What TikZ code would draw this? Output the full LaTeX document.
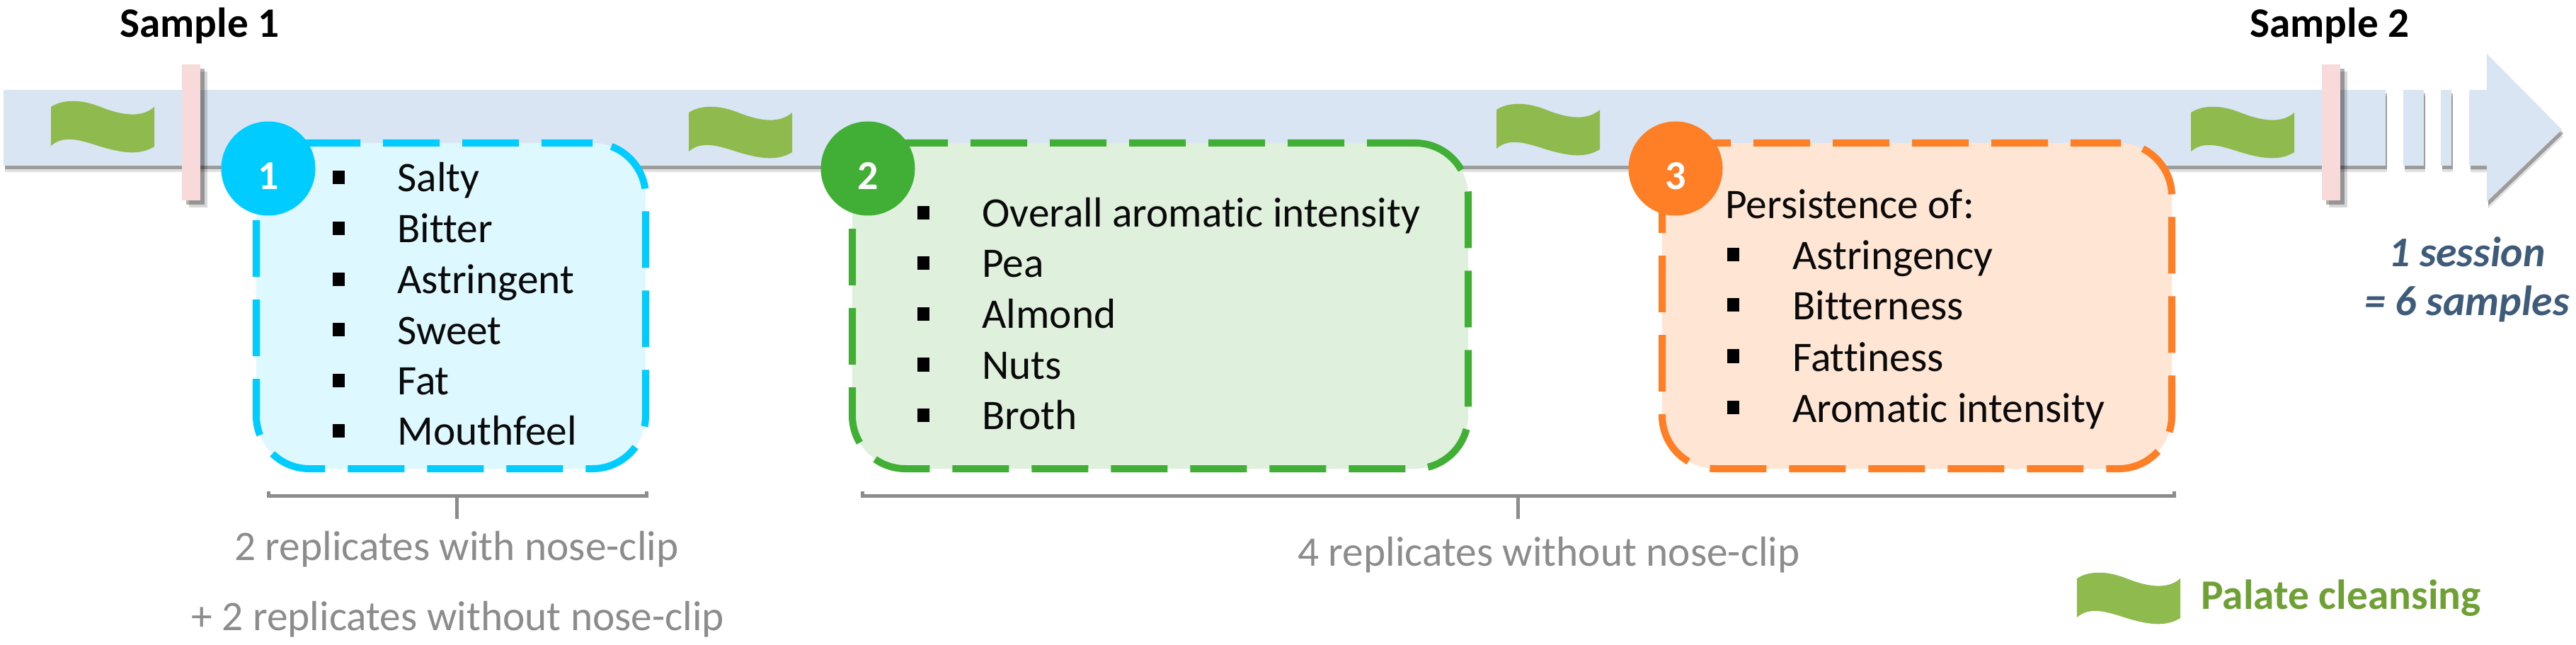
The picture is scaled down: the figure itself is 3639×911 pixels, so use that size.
\documentclass[tikz,border=0pt]{standalone}
\usepackage{fontspec}
\setmainfont{Carlito}[Ligatures=NoCommon]
\usetikzlibrary{positioning,shadows}
\definecolor{ink}      {HTML}{0A0A0A}
\definecolor{barblue}  {HTML}{D9E5F2}
\definecolor{tickpink} {HTML}{F8DADA}
\definecolor{leaf}     {HTML}{8FBB4E}
\definecolor{leafdark} {HTML}{6FA036}
\definecolor{softgrey} {HTML}{8C8C8C}
\definecolor{slate}    {HTML}{3F5B7A}
\definecolor{tasteline}{HTML}{00CCFF}
\definecolor{aromaline}{HTML}{41AE36}
\definecolor{persline} {HTML}{FF7F27}
\colorlet{tastefill}{tasteline!13}
\colorlet{aromafill}{aromaline!17}
\colorlet{persfill}{persline!20}
\tikzset{
  % --- nodes
  panel/.style = {rectangle, rounded corners=15mm, line width=2mm, minimum height=92mm},
  taste/.style = {panel, draw=tasteline, fill=tastefill, minimum width=110mm,
                  dash pattern=on 16mm off 6.4mm, dash phase=1.6mm},
  aroma/.style = {panel, draw=aromaline, fill=aromafill, minimum width=174mm,
                  dash pattern=on 16mm off 6.4mm, dash phase=2.4mm},
  pers/.style  = {panel, draw=persline, fill=persfill, minimum width=144mm,
                  dash pattern=on 16mm off 6.4mm, dash phase=2.4mm},
  num/.style   = {circle, minimum size=26.6mm, inner sep=0pt, text=white, text height=12mm,
                  font=\fontsize{33}{36}\selectfont\bfseries},
  item/.style  = {anchor=base west, inner sep=0pt, text=ink, font=\fontsize{33.8}{40}\selectfont},
  bul/.style   = {rectangle, fill=black, minimum width=3.4mm, minimum height=3.8mm, inner sep=0pt},
  smp/.style   = {inner sep=0pt, text=black, font=\fontsize{33.7}{38}\selectfont\bfseries},
  rep/.style   = {inner sep=0pt, text=softgrey, font=\fontsize{33.8}{40}\selectfont},
  sess/.style  = {inner sep=0pt, text=slate, font=\fontsize{34}{40}\selectfont\bfseries\itshape},
  % --- shapes
  bar/.style   = {fill=barblue, drop shadow={shadow xshift=0.4mm, shadow yshift=-1.9mm,
                  fill=black, opacity=.12}, drop shadow={shadow xshift=0.4mm, shadow yshift=-1.1mm,
                  fill=black, opacity=.3}},
  tick/.style  = {fill=tickpink, drop shadow={shadow xshift=2mm, shadow yshift=-2mm,
                  fill=black, opacity=.16}, drop shadow={shadow xshift=1.2mm, shadow yshift=-1.2mm,
                  fill=black, opacity=.3}},
  brk/.style   = {draw=softgrey, line width=1mm},
  flag/.pic    = {\fill[leaf] (0,9) .. controls (15,-1) and (40,-3) .. (70,9)
                   .. controls (100,21) and (128,25) .. (146,9) -- (146,65)
                   .. controls (125,78) and (100,74) .. (70,65)
                   .. controls (42,56) and (18,48) .. (0,64) -- cycle;},
}
\begin{document}
\begin{tikzpicture}[x=0.2mm,y=-0.2mm]
  \useasboundingbox (0,0) rectangle (3639,911);

  % time line
  \path[bar] (5,127) rectangle (3370,234);
  \path[bar] (3395,127) rectangle (3424,234);
  \path[bar] (3448,127) rectangle (3463,234);
  \path[bar] (3488,127) -- (3513,127) -- (3513,76) -- (3619,183) -- (3513,285)
             -- (3513,234) -- (3488,234) -- cycle;
  \foreach \x/\y in {72/142,973/150,2114/146,3095/150,2934/808}
    \pic at (\x,\y) {flag};
  \path[tick] (257,91) rectangle (283,283);
  \path[tick] (3280,91) rectangle (3306,283);
  \node[smp] (s1) at (282,36) {Sample 1};
  \node[smp] (s2) at (3291,36) {Sample 2};

  % panels
  \node[taste] (b1) at (637,432) {};
  \node[num, fill=tasteline] (c1) at (379,238) {1};
  \foreach \y/\t [count=\k] in {251/Salty,323/Bitter,395/Astringent,466/Sweet,537/Fat,608/Mouthfeel} {
    \node[bul] (ba\k) at (478,\y) {};
    \node[item] (ta\k) at (561,\y+20) {\t};
  }
  \node[aroma] (b2) at (1639,432) {};
  \node[num, fill=aromaline] (c2) at (1226,238) {2};
  \foreach \y/\t [count=\k] in {301/Overall aromatic intensity,372/Pea,444/Almond,515/Nuts,586/Broth} {
    \node[bul] (bb\k) at (1304,\y) {};
    \node[item] (tb\k) at (1387,\y+20) {\t};
  }
  \node[pers] (b3) at (2708,432) {};
  \node[num, fill=persline] (c3) at (2367,238) {3};
  \node[item] (tc0) at (2437,309) {Persistence of:};
  \foreach \y/\t [count=\k] in {360/Astringency,431/Bitterness,503/Fattiness,575/Aromatic intensity} {
    \node[bul] (bc\k) at (2448,\y) {};
    \node[item] (tc\k) at (2532,\y+21) {\t};
  }

  % brackets
  \coordinate (l1) at (379,694); \coordinate (r1) at (913,694);
  \coordinate (m1) at (645,700); \coordinate (e1) at (645,733);
  \coordinate (l2) at (1218,694); \coordinate (r2) at (3071,694);
  \coordinate (m2) at (2144,700); \coordinate (e2) at (2144,733);
  \draw[brk] (l1) -- ++(0,6) -| (r1);
  \draw[brk] (m1) -- (e1);
  \draw[brk] (l2) -- ++(0,6) -| (r2);
  \draw[brk] (m2) -- (e2);
  \node[rep] (r1a) at (645,776) {2 replicates with nose-clip};
  \node[rep] (r1b) at (647,875) {+ 2 replicates without nose-clip};
  \node[rep] (r2a) at (2188,784) {4 replicates without nose-clip};

  % right side
  \node[sess] (n1) at (3485,356) {1 session};
  \node[sess] (n2) at (3485,429) {= 6 samples};
  \node[inner sep=0pt, anchor=west, text=leafdark, font=\fontsize{33.8}{38}\selectfont\bfseries]
    (pc) at (3109,845) {Palate cleansing};
\end{tikzpicture}
\end{document}
